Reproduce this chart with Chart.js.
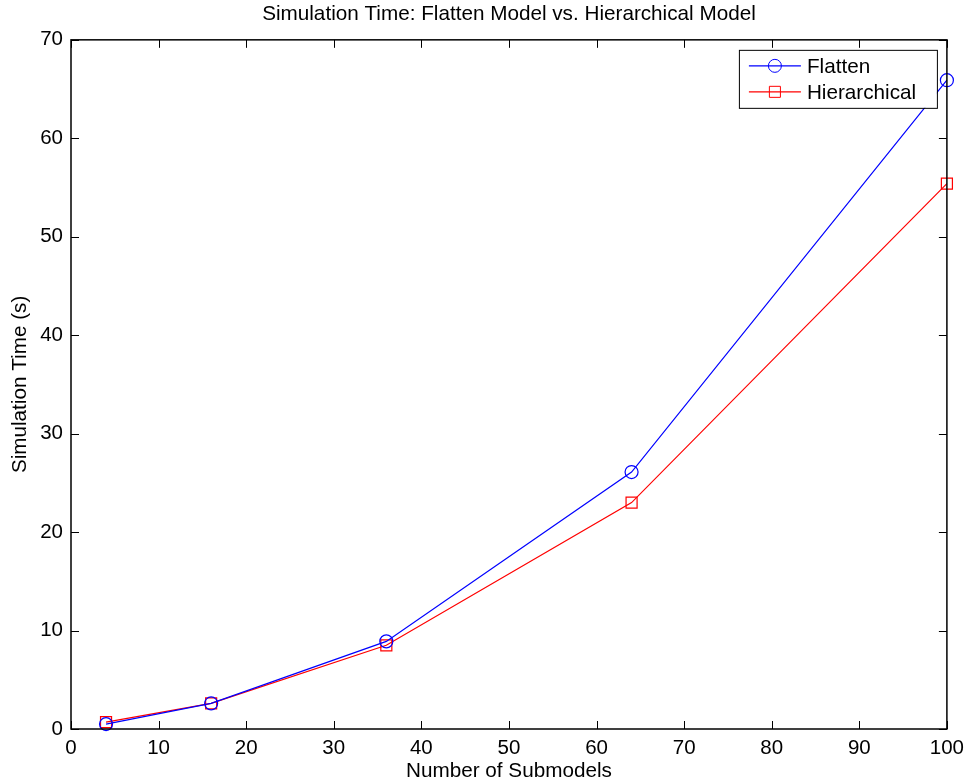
<!DOCTYPE html>
<html>
<head>
<meta charset="utf-8">
<title>Simulation Time</title>
<script src="https://cdn.jsdelivr.net/npm/chart.js@4/dist/chart.umd.min.js"></script>
<style>
    body { margin: 0; background: #fff; }
    canvas { display: block; }
</style>
</head>
<body>
<canvas id="chart" width="971" height="784"></canvas>
<script>
const submodels = [4, 16, 36, 64, 100];
const flatten = [0.5, 2.6, 8.9, 26.1, 65.9];
const hierarchical = [0.7, 2.6, 8.5, 23.0, 55.4];
const seriesNames = ['Flatten', 'Hierarchical'];
const xTicks = [0, 10, 20, 30, 40, 50, 60, 70, 80, 90, 100];
const yTicks = [0, 10, 20, 30, 40, 50, 60, 70];

const FONT = '"Liberation Sans", Arial, Helvetica, sans-serif';
const TEXT_SIZE = 20.7;

function toPoints(xs, ys) {
    return xs.map((x, i) => ({x: x, y: ys[i]}));
}

// matlab style box + inward ticks on all 4 sides
const boxTicks = {
    id: 'boxTicks',
    afterDatasetsDraw(chart) {
        const {ctx, chartArea: a, scales} = chart;
        const len = 8;
        ctx.save();
        ctx.strokeStyle = '#000';
        ctx.lineWidth = 1;
        ctx.beginPath();
        scales.x.ticks.forEach(t => {
            const px = Math.round(scales.x.getPixelForValue(t.value)) + 0.5;
            ctx.moveTo(px, a.bottom); ctx.lineTo(px, a.bottom - len);
            ctx.moveTo(px, a.top); ctx.lineTo(px, a.top + len);
        });
        scales.y.ticks.forEach(t => {
            const py = Math.round(scales.y.getPixelForValue(t.value)) + 0.5;
            ctx.moveTo(a.left, py); ctx.lineTo(a.left + len, py);
            ctx.moveTo(a.right, py); ctx.lineTo(a.right - len, py);
        });
        ctx.stroke();
        ctx.lineWidth = 1.5;
        ctx.strokeRect(a.left, a.top, a.right - a.left, a.bottom - a.top);
        ctx.restore();
    }
};

// legend box in the top right corner of the plot
const boxLegend = {
    id: 'boxLegend',
    afterDraw(chart) {
        const {ctx, chartArea: a} = chart;
        const w = 198, h = 58;
        const left = a.right - 10 - w, top = a.top + 10;
        ctx.save();
        ctx.fillStyle = '#fff';
        ctx.fillRect(left, top, w, h);
        ctx.strokeStyle = '#000';
        ctx.lineWidth = 1;
        ctx.strokeRect(left + 0.5, top + 0.5, w, h);

        chart.data.datasets.forEach((ds, i) => {
            const y = top + 16 + i * 26;
            ctx.strokeStyle = ds.borderColor;
            ctx.lineWidth = ds.borderWidth;
            ctx.beginPath();
            ctx.moveTo(left + 10, y);
            ctx.lineTo(left + 62, y);
            ctx.stroke();
            ctx.fillStyle = 'rgba(0,0,0,0)';
            ctx.lineWidth = 1;
            Chart.helpers.drawPoint(ctx, {
                pointStyle: ds.pointStyle,
                radius: ds.pointRadius,
                borderWidth: 1,
                rotation: 0
            }, left + 36, y);

            ctx.fillStyle = '#000';
            ctx.font = TEXT_SIZE + 'px ' + FONT;
            ctx.textBaseline = 'middle';
            ctx.textAlign = 'left';
            ctx.fillText(ds.label, left + 68, y + 1);
        });
        ctx.restore();
    }
};

new Chart(document.getElementById('chart'), {
    type: 'line',
    data: {
        datasets: [
            {
                label: seriesNames[0],
                data: toPoints(submodels, flatten),
                borderColor: '#0000ff',
                backgroundColor: 'rgba(0,0,0,0)',
                borderWidth: 1.2,
                pointStyle: 'circle',
                pointRadius: 6.5,
                pointBorderWidth: 1.2,
                pointBorderColor: '#0000ff',
                pointBackgroundColor: 'rgba(0,0,0,0)',
                clip: false
            },
            {
                label: seriesNames[1],
                data: toPoints(submodels, hierarchical),
                borderColor: '#ff0000',
                backgroundColor: 'rgba(0,0,0,0)',
                borderWidth: 1.2,
                pointStyle: 'rect',
                pointRadius: 7.8,
                pointBorderWidth: 1.2,
                pointBorderColor: '#ff0000',
                pointBackgroundColor: 'rgba(0,0,0,0)',
                clip: false
            }
        ]
    },
    options: {
        responsive: false,
        animation: false,
        devicePixelRatio: 1,
        layout: {padding: {left: 0, right: 22, top: 0, bottom: 0}},
        plugins: {
            legend: {display: false},
            tooltip: {enabled: false},
            title: {
                display: true,
                text: 'Simulation Time: Flatten Model vs. Hierarchical Model',
                color: '#000',
                fullSize: false,
                font: {family: FONT, size: TEXT_SIZE, weight: 'normal'},
                padding: {top: 2, bottom: 13}
            }
        },
        scales: {
            x: {
                type: 'linear',
                min: 0,
                max: 100,
                afterBuildTicks: s => { s.ticks = xTicks.map(v => ({value: v})); },
                afterFit: s => { s.height = 55; },
                grid: {display: false, drawTicks: false},
                border: {display: false},
                ticks: {color: '#000', padding: 7, maxRotation: 0, font: {family: FONT, size: 20.5}},
                title: {
                    display: true,
                    text: 'Number of Submodels',
                    color: '#000',
                    font: {family: FONT, size: TEXT_SIZE},
                    padding: {top: 2, bottom: 0}
                }
            },
            y: {
                type: 'linear',
                min: 0,
                max: 70,
                afterBuildTicks: s => { s.ticks = yTicks.map(v => ({value: v})); },
                afterFit: s => { s.width = 71; },
                grid: {display: false, drawTicks: false},
                border: {display: false},
                ticks: {color: '#000', padding: 8, font: {family: FONT, size: 20.5}},
                title: {
                    display: true,
                    text: 'Simulation Time (s)',
                    color: '#000',
                    font: {family: FONT, size: TEXT_SIZE},
                    padding: {top: 8, bottom: 0}
                }
            }
        }
    },
    plugins: [boxTicks, boxLegend]
});
</script>
</body>
</html>
